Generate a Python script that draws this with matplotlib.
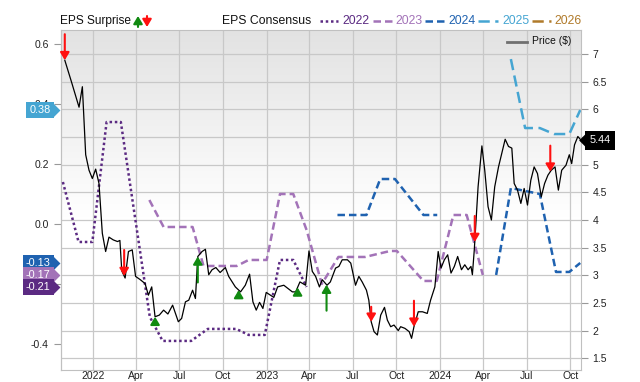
import numpy as np
import pandas as pd
import matplotlib
matplotlib.use("Agg")
import matplotlib.pyplot as plt
import matplotlib.dates as mdates
import matplotlib.transforms as mtransforms
from matplotlib.lines import Line2D
from matplotlib.patches import FancyArrowPatch
from matplotlib.colors import LinearSegmentedColormap

plt.rcParams['font.family'] = ['Liberation Sans', 'DejaVu Sans']

base = pd.Timestamp("2022-01-01")

# price, days counted from 2022-01-01
price_days = [-60, -46, -30, -23, -16, -9, -2, 5, 12, 19, 26, 33, 42, 51, 56, 60, 67, 74, 82, 89,
              99, 109, 116, 123, 130, 139, 148, 157, 167, 179, 186, 194, 201, 209, 215, 220, 229, 236, 243, 250,
              258, 267, 278, 285, 299, 310, 320, 329, 336, 343, 350, 357, 364, 373, 380, 388, 401, 419, 426, 435,
              447, 454, 461, 468, 476, 482, 492, 499, 510, 517, 524, 535, 542, 552, 559, 566, 575, 580, 585, 591,
              598, 605, 613, 619, 626, 633, 642, 647, 656, 665, 670, 675, 684, 693, 703, 710, 719, 726, 732, 739,
              746, 753, 760, 767, 775, 782, 789, 795, 798, 802, 810, 818, 824, 831, 838, 845, 853, 860, 867, 874,
              881, 886, 893, 900, 907, 914, 921, 928, 935, 943, 950, 957, 964, 972, 979, 986, 995, 1002, 1007, 1013,
              1020, 1027]
price = [6.89, 6.50, 6.04, 6.41, 5.18, 4.90, 4.75, 4.92, 4.66, 3.76, 3.43, 3.69, 3.64, 3.61, 3.63, 3.08, 2.95, 3.43, 3.46, 2.98,
         2.92, 2.85, 2.64, 2.79, 2.25, 2.28, 2.37, 2.30, 2.46, 2.16, 2.22, 2.52, 2.55, 2.73, 2.58, 3.34, 3.43, 3.47, 3.01, 3.10,
         3.14, 3.05, 3.14, 2.98, 2.79, 2.70, 2.82, 3.02, 2.52, 2.37, 2.51, 2.40, 2.69, 2.64, 2.60, 2.79, 2.82, 2.70, 2.70, 2.88,
         2.82, 3.44, 3.07, 2.98, 2.79, 2.92, 2.82, 2.88, 3.13, 3.16, 3.28, 3.28, 3.22, 2.82, 2.98, 2.88, 2.73, 2.55, 2.16, 1.98,
         1.92, 2.28, 2.42, 2.19, 2.07, 2.10, 2.00, 2.07, 2.04, 1.98, 1.86, 2.07, 2.34, 2.34, 2.31, 2.55, 2.79, 3.43, 3.13, 3.28,
         3.37, 3.04, 3.16, 3.34, 3.10, 3.19, 3.10, 3.16, 3.01, 3.46, 4.60, 5.34, 4.90, 4.24, 4.00, 4.60, 4.96, 5.21, 5.46, 5.33,
         5.30, 4.66, 4.54, 4.30, 4.57, 4.27, 4.72, 4.96, 4.84, 4.42, 4.66, 4.81, 4.90, 4.96, 4.54, 4.90, 4.99, 5.18, 5.02, 5.36,
         5.51, 5.44]

# EPS consensus per fiscal year
eps22_days = [-64, -31, -2, 28, 58, 119, 146, 206, 241, 301, 327, 361, 393, 421, 449]
eps22 = [0.14, -0.06, -0.06, 0.34, 0.34, -0.31, -0.39, -0.39, -0.35, -0.35, -0.37, -0.37, -0.12, -0.12, -0.21]
eps23_days = [118, 148, 209, 232, 302, 327, 365, 393, 421, 449, 481, 516, 572, 625, 639, 695, 723, 758, 786, 820]
eps23 = [0.08, -0.01, -0.01, -0.14, -0.14, -0.12, -0.12, 0.10, 0.10, -0.02, -0.20, -0.11, -0.11, -0.09, -0.09,
         -0.19, -0.19, 0.03, 0.03, -0.17]
eps24_days = [514, 575, 604, 635, 695, 724, 725, 848, 879, 940, 974, 1002, 1025]
eps24 = [0.03, 0.03, 0.15, 0.15, 0.03, 0.03, np.nan, -0.17, 0.12, 0.10, -0.16, -0.16, -0.13]
eps25_days = [879, 909, 940, 970, 1002, 1025]
eps25 = [0.55, 0.32, 0.32, 0.30, 0.30, 0.38]

# EPS surprise arrows
surp_days = [-60, 65, 130, 220, 306, 430, 491, 585, 675, 803, 962]
surp_up = [False, False, True, True, True, True, True, False, False, False, False]
surp_len = [0.47, 0.47, 0.13, 0.47, 0.14, 0.14, 0.47, 0.27, 0.47, 0.47, 0.47]

years = ['2022', '2023', '2024', '2025', '2026']
year_colors = ['#5b2a82', '#a373b8', '#1f62b0', '#45a5d2', '#b07a2a']
year_styles = [(0, (1, 1.1)), (0, (3, 1.6)), (0, (3, 1.6)), (0, (4.5, 2.2)), (0, (4.5, 2.2))]

P_LIM = (1.287, 7.436)
E_LIM = (-0.487, 0.647)

GREEN = '#118a11'
RED = '#ff1010'
ARROW = '-|>,head_length=0.5,head_width=0.3'


def e2p(e):
    return P_LIM[0] + (np.asarray(e, dtype=float) - E_LIM[0]) * (P_LIM[1] - P_LIM[0]) / (E_LIM[1] - E_LIM[0])


def p2e(p):
    return E_LIM[0] + (np.asarray(p, dtype=float) - P_LIM[0]) * (E_LIM[1] - E_LIM[0]) / (P_LIM[1] - P_LIM[0])


def to_dates(days):
    return (base + pd.to_timedelta(np.asarray(days, dtype=float), unit='D')).to_numpy()


fig = plt.figure(figsize=(6.4, 3.82), dpi=100)
ax = fig.add_axes([60.7 / 640, 1 - 370 / 382, 520 / 640, 340 / 382])

# background gradient
cmap = LinearSegmentedColormap.from_list('bg', [(0, 'white'), (0.45, 'white'), (1, '#e2e2e2')])
ax.imshow(np.linspace(0, 1, 256).reshape(-1, 1), cmap=cmap, aspect='auto', origin='lower',
          extent=(0, 1, 0, 1), transform=ax.transAxes, zorder=0)

pd_dates = to_dates(price_days)
ax.plot(pd_dates, price, color='black', lw=0.9, zorder=5)

series = [(eps22_days, eps22), (eps23_days, eps23), (eps24_days, eps24), (eps25_days, eps25)]
for (d, v), c, ls in zip(series, year_colors, year_styles):
    ax.plot(to_dates(d), e2p(v), color=c, lw=1.8, linestyle=ls, zorder=3)

# surprise arrows, pointing at the price line
pnum = mdates.date2num(pd_dates)
for d, up, ln in zip(surp_days, surp_up, surp_len):
    dt = to_dates([d])[0]
    tip = np.interp(mdates.date2num(dt), pnum, price)
    tail = tip - ln if up else tip + ln
    ax.annotate('', xy=(dt, tip), xytext=(dt, tail), annotation_clip=False,
                arrowprops=dict(arrowstyle=ARROW, color=GREEN if up else RED,
                                lw=1.5, shrinkA=0, shrinkB=0, mutation_scale=9), zorder=6)

ax.set_xlim(to_dates([-68.6])[0], to_dates([1026])[0])
ax.set_ylim(*P_LIM)

ax.xaxis.set_major_locator(mdates.MonthLocator(bymonth=[1, 4, 7, 10]))
fig.canvas.draw()
ticks = ax.get_xticks()
labels = []
for t in ticks:
    dt = mdates.num2date(t)
    labels.append(str(dt.year) if dt.month == 1 else dt.strftime('%b'))
ax.set_xticks(ticks)
ax.set_xticklabels(labels)

ax.set_yticks(np.arange(1.5, 7.01, 0.5))
ax.set_yticklabels(['1.5', '2', '2.5', '3', '3.5', '4', '4.5', '5', '5.5', '6', '6.5', '7'])
ax.yaxis.tick_right()
ax.grid(True, color='#c8c8c8', lw=0.9, zorder=1)
ax.set_axisbelow(True)
ax.tick_params(axis='both', colors='#999999', labelcolor='#222222', labelsize=7.5, length=5, width=0.8)
ax.tick_params(axis='x', length=0, pad=1, labelsize=7.5)
for s in ax.spines.values():
    s.set_color('#c0c0c0')

sec = ax.secondary_yaxis('left', functions=(p2e, e2p))
sec.set_yticks([-0.4, -0.2, 0.0, 0.2, 0.4, 0.6])
sec.set_yticklabels(['-0.4', '-0.2', '0.0', '0.2', '0.4', '0.6'])
sec.tick_params(colors='#999999', labelcolor='#222222', labelsize=7.5, length=5, width=0.8)
sec.spines['left'].set_color('#c0c0c0')

# value flags on the left (latest consensus) and right (latest price)
yt = ax.get_yaxis_transform()
for v, c in [(eps25[-1], year_colors[3]), (eps24[-1], year_colors[2]),
             (eps23[-1], year_colors[1]), (eps22[-1], year_colors[0])]:
    y = float(e2p(v))
    ax.annotate(f'{v:.2f}', xy=(0, y), xycoords=yt, xytext=(-10, 0), textcoords='offset pixels',
                ha='right', va='center', color='white', fontsize=7.8, annotation_clip=False,
                bbox=dict(boxstyle='square,pad=0.3', fc=c, ec='none'), zorder=10)
    ax.plot([0], [y], transform=mtransforms.offset_copy(yt, fig, x=-8, units='dots'),
            marker=[(0, -1), (1, 0), (0, 1)], ms=10, color=c, mec='none', clip_on=False, zorder=10)

y = price[-1]
ax.annotate(f'{y:.2f}', xy=(1, y), xycoords=yt, xytext=(9, 0), textcoords='offset pixels',
            ha='left', va='center', color='white', fontsize=7.8, annotation_clip=False,
            bbox=dict(boxstyle='square,pad=0.4', fc='black', ec='none'), zorder=10)
ax.plot([1], [y], transform=mtransforms.offset_copy(yt, fig, x=6, units='dots'),
        marker=[(0, -1), (-1, 0), (0, 1)], ms=12, color='black', mec='none', clip_on=False, zorder=10)


# header legends
def fx(px):
    return px / 640


def fy(py):
    return 1 - py / 382


fig.text(fx(60), fy(21), 'EPS Surprise', fontsize=8.6, color='#111111', va='center', ha='left')
fig.add_artist(FancyArrowPatch((fx(138), fy(27)), (fx(138), fy(16)), transform=fig.transFigure,
                               arrowstyle=ARROW, mutation_scale=9, color=GREEN, lw=1.5,
                               shrinkA=0, shrinkB=0))
fig.add_artist(FancyArrowPatch((fx(147), fy(16)), (fx(147), fy(27)), transform=fig.transFigure,
                               arrowstyle=ARROW, mutation_scale=9, color=RED, lw=1.5,
                               shrinkA=0, shrinkB=0))
fig.text(fx(222), fy(21), 'EPS Consensus', fontsize=8.8, color='#111111', va='center', ha='left')
seg = [(320, 338, 342), (373, 392, 395), (425, 445, 448), (478, 498, 502), (532, 551, 554)]
for (x0, x1, xt), yr, c, ls in zip(seg, years, year_colors, year_styles):
    fig.add_artist(Line2D([fx(x0), fx(x1)], [fy(21), fy(21)], transform=fig.transFigure,
                          color=c, lw=1.8, linestyle=ls))
    fig.text(fx(xt), fy(21), yr, fontsize=8.8, color=c, va='center', ha='left')

fig.add_artist(Line2D([fx(507), fx(527)], [fy(41.5), fy(41.5)], transform=fig.transFigure,
                      color='#707070', lw=2))
fig.text(fx(532), fy(41.5), 'Price ($)', fontsize=7.5, color='#111111', va='center', ha='left')

fig.savefig('out.png', dpi=100)
